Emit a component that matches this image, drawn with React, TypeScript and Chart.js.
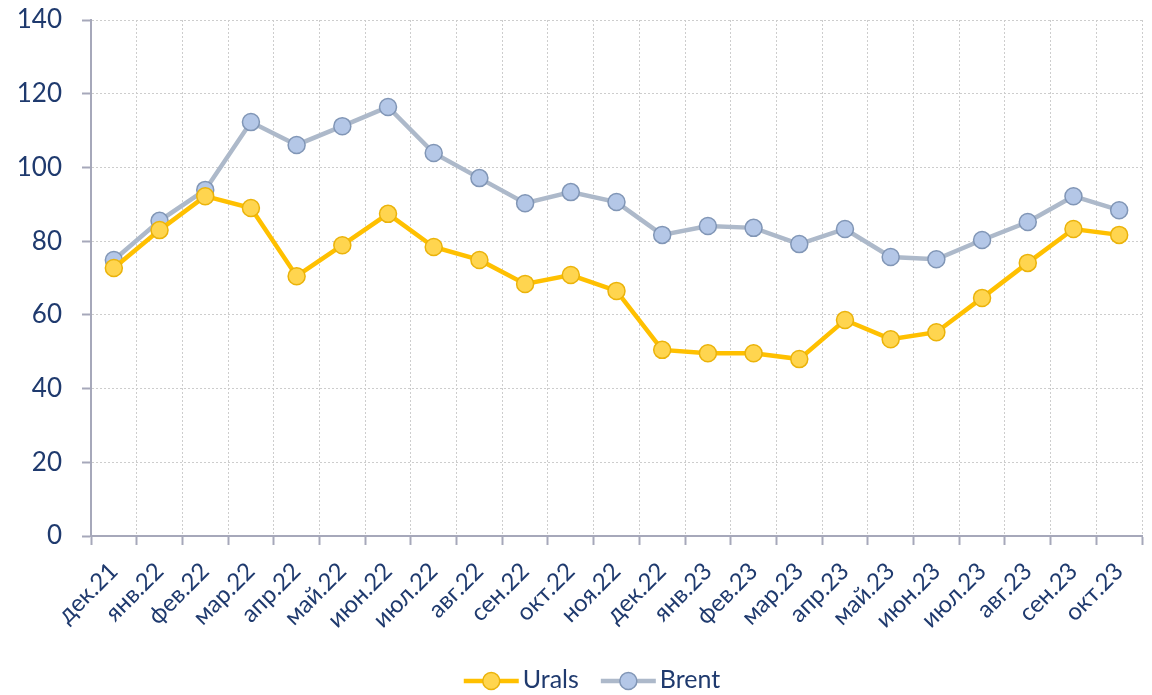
import React, { useEffect, useRef } from "react";
import { Chart, registerables } from "chart.js";

Chart.register(...registerables);

const categories = [
  "дек.21", "янв.22", "фев.22", "мар.22", "апр.22", "май.22", "июн.22", "июл.22",
  "авг.22", "сен.22", "окт.22", "ноя.22", "дек.22", "янв.23", "фев.23", "мар.23",
  "апр.23", "май.23", "июн.23", "июл.23", "авг.23", "сен.23", "окт.23",
];

const urals = [
  72.7, 83.0, 92.2, 89.0, 70.5, 78.9, 87.4, 78.4, 74.9, 68.4, 70.8, 66.5,
  50.5, 49.6, 49.6, 48.0, 58.6, 53.4, 55.3, 64.6, 74.1, 83.3, 81.7,
];

const brent = [
  74.9, 85.5, 93.9, 112.3, 106.1, 111.2, 116.4, 103.9, 97.1, 90.3, 93.3, 90.6,
  81.7, 84.1, 83.6, 79.2, 83.3, 75.7, 75.1, 80.3, 85.2, 92.2, 88.4,
];

const yMin = 0;
const yMax = 140;
const yStep = 20;

const TEXT = "#1F3A6E";
const FONT = "Lato";
const GRID = "#CDCDCD";
const AXIS = "#A6A8BA";

const legendPlugin = {
  id: "lineLegend",
  afterDraw(chart: any) {
    const ctx = chart.ctx as CanvasRenderingContext2D;
    ctx.save();
    ctx.font = `25px ${FONT}`;
    const lineW = 55;
    const gap = 4;
    const itemGap = 22;
    const items = chart.data.datasets.map((ds: any) => ({
      ds,
      tw: ctx.measureText(ds.label).width,
    }));
    const total =
      items.reduce((s: number, it: any) => s + lineW + gap + it.tw, 0) +
      itemGap * (items.length - 1);
    let x = chart.width / 2 + 16 - total / 2;
    const y = chart.height - 14;
    items.forEach((it: any) => {
      const ds = it.ds;
      ctx.strokeStyle = ds.borderColor;
      ctx.lineWidth = ds.borderWidth;
      ctx.beginPath();
      ctx.moveTo(x, y);
      ctx.lineTo(x + lineW, y);
      ctx.stroke();
      ctx.beginPath();
      ctx.arc(x + lineW / 2, y, ds.pointRadius, 0, Math.PI * 2);
      ctx.fillStyle = ds.pointBackgroundColor;
      ctx.fill();
      ctx.lineWidth = ds.pointBorderWidth;
      ctx.strokeStyle = ds.pointBorderColor;
      ctx.stroke();
      ctx.fillStyle = TEXT;
      ctx.textBaseline = "middle";
      ctx.textAlign = "left";
      ctx.fillText(ds.label, x + lineW + gap, y - 1);
      x += lineW + gap + it.tw + itemGap;
    });
    ctx.restore();
  },
};

export default function App() {
  const ref = useRef<HTMLCanvasElement | null>(null);

  useEffect(() => {
    if (!ref.current) return;
    Chart.defaults.font.family = FONT;
    const chart = new Chart(ref.current, {
      type: "line",
      data: {
        labels: categories,
        datasets: [
          {
            label: "Urals",
            data: urals,
            borderColor: "#FFC000",
            borderWidth: 4.5,
            pointRadius: 8.5,
            pointHoverRadius: 8.5,
            pointBackgroundColor: "#FFD54F",
            pointBorderColor: "#EBB30A",
            pointBorderWidth: 1.5,
            tension: 0,
          },
          {
            label: "Brent",
            data: brent,
            borderColor: "#ADB9CA",
            borderWidth: 4.5,
            pointRadius: 8.5,
            pointHoverRadius: 8.5,
            pointBackgroundColor: "#B4C7E7",
            pointBorderColor: "#8196B6",
            pointBorderWidth: 1.5,
            tension: 0,
          },
        ],
      },
      options: {
        responsive: true,
        maintainAspectRatio: false,
        animation: false,
        layout: { padding: { top: 20, right: 10, bottom: 58, left: 0 } },
        plugins: {
          legend: { display: false },
          tooltip: { enabled: false },
        },
        scales: {
          x: {
            offset: true,
            grid: {
              offset: true,
              color: GRID,
              lineWidth: 1,
              drawTicks: true,
              tickLength: 9,
              tickColor: AXIS,
              tickWidth: 2,
              tickBorderDash: [],
            } as any,
            border: { color: AXIS, width: 2, dash: [2, 2] } as any,
            ticks: {
              color: TEXT,
              font: { size: 24, family: FONT },
              maxRotation: 45,
              minRotation: 45,
              padding: 12,
              autoSkip: false,
            },
            afterFit: (scale: any) => {
              scale.height = 101;
            },
          },
          y: {
            min: yMin,
            max: yMax,
            grid: {
              color: GRID,
              lineWidth: 1,
              tickLength: 9,
              tickColor: AXIS,
              tickWidth: 2,
              tickBorderDash: [],
            } as any,
            border: { color: AXIS, width: 2, dash: [2, 2] } as any,
            ticks: {
              stepSize: yStep,
              color: TEXT,
              font: { size: 26, family: FONT },
              padding: 20,
            },
            afterFit: (scale: any) => {
              scale.width = 91;
              scale.paddingTop = 0;
              scale.paddingBottom = 0;
            },
          },
        },
      },
      plugins: [legendPlugin],
    });
    return () => chart.destroy();
  }, []);

  return (
    <div
      style={{
        position: "fixed",
        left: 0,
        top: 0,
        width: 1152,
        height: 695,
        background: "#FFFFFF",
      }}
    >
      <canvas ref={ref} />
    </div>
  );
}
